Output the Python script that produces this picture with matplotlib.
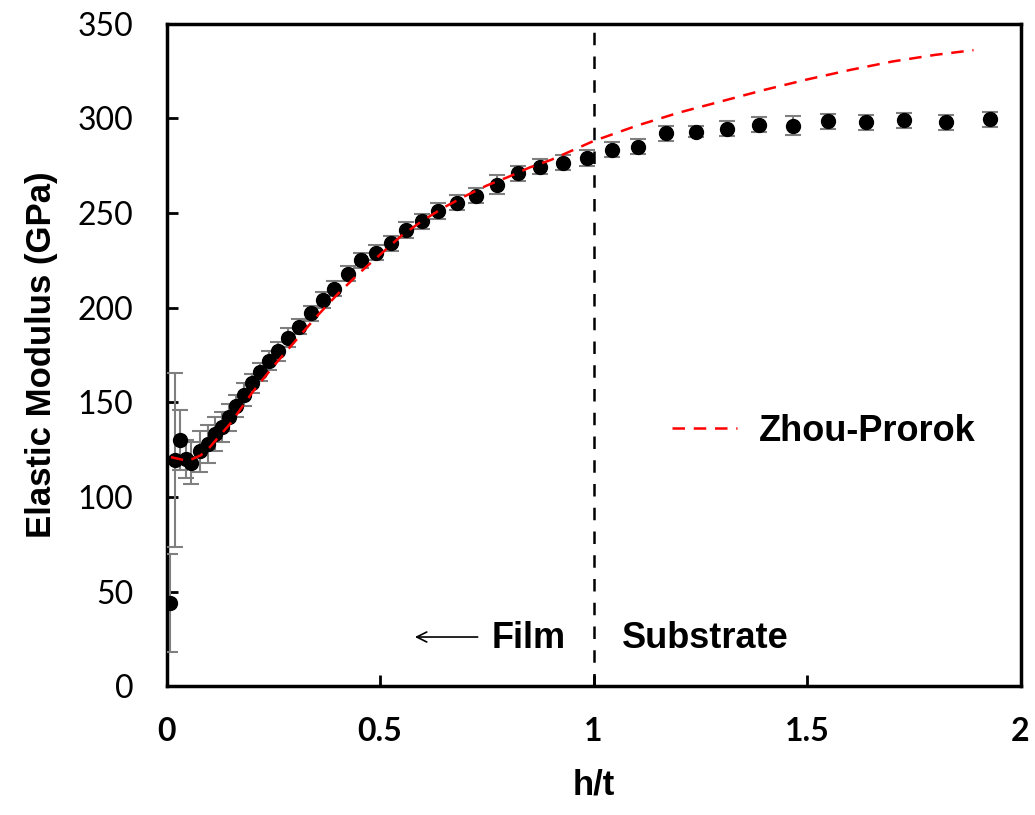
import numpy as np
import matplotlib as mpl
import matplotlib.pyplot as plt

mpl.rcParams['font.family'] = ['Liberation Sans', 'DejaVu Sans']

# Measured modulus vs normalised depth
h_t = [0.007, 0.020, 0.032, 0.045, 0.056, 0.077, 0.098, 0.113, 0.129, 0.146,
       0.162, 0.181, 0.200, 0.218, 0.239, 0.260, 0.284, 0.310, 0.338, 0.366,
       0.392, 0.425, 0.455, 0.490, 0.525, 0.560, 0.598, 0.635, 0.680, 0.724,
       0.773, 0.823, 0.875, 0.929, 0.985, 1.043, 1.104, 1.170, 1.240, 1.313,
       1.388, 1.468, 1.550, 1.637, 1.726, 1.826, 1.929]
modulus = [44, 119.5, 130, 120, 118, 124, 128, 133, 137, 142,
           148, 154, 160, 166, 172, 177, 184, 190, 197, 204,
           210, 218, 225, 229, 234, 241, 245.5, 251, 255.5, 259,
           265, 271, 274.5, 276.5, 279, 283.5, 285, 292, 293, 294.5,
           296.5, 296, 298.5, 298, 299, 298, 299.5]
err = [26, 46, 16, 10, 11, 11, 10, 9, 8, 7,
       6, 6, 5, 5, 5, 5, 5, 4, 4, 4,
       4, 4, 4, 4, 4, 4, 4, 4, 4, 4,
       5, 4, 4, 4, 4, 4, 4, 4, 3, 4,
       4, 5, 4, 4, 4, 4, 4]

# Zhou-Prorok model curve
zp_x = [0.01, 0.03, 0.05, 0.08, 0.10, 0.15, 0.20, 0.25, 0.30, 0.35, 0.40,
        0.45, 0.50, 0.55, 0.60, 0.65, 0.70, 0.75, 0.80, 0.85, 0.90, 0.95,
        1.00, 1.10, 1.20, 1.30, 1.40, 1.50, 1.60, 1.70, 1.80, 1.89]
zp_y = [121, 120, 119, 122, 126, 139, 155, 169, 182, 195, 207,
        218, 228, 238, 246, 253, 259, 264.5, 269, 274, 278, 283,
        288, 296, 303, 309, 315, 320.5, 325.5, 330, 333.5, 336]

fig = plt.figure(figsize=(10.35, 8.15), dpi=100)
ax = fig.add_axes([0.161, 0.158, 0.825, 0.813])

ax.errorbar(h_t, modulus, yerr=err, fmt='o', color='black', markersize=10,
            ecolor='#7f7f7f', elinewidth=1.5, capsize=6, capthick=1.5, zorder=3)
ax.plot(zp_x, zp_y, '--', color='red', lw=1.8, dashes=(5, 3.5), zorder=4,
        label='Zhou-Prorok')

ax.axvline(1.0, color='black', lw=1.8, ls='--', dashes=(5, 4.5), zorder=1)

ax.annotate('', xy=(0.575, 26), xytext=(0.735, 26),
            arrowprops=dict(arrowstyle='->', color='black', lw=1.2,
                            mutation_scale=18))
ax.text(0.762, 25, 'Film', fontsize=26, fontweight='bold', va='center')
ax.text(1.066, 25, 'Substrate', fontsize=26, fontweight='bold', va='center')

ax.set_xlim(0, 2)
ax.set_ylim(0, 350)
ax.set_xticks([0, 0.5, 1, 1.5, 2])
ax.set_xticklabels(['0', '0.5', '1', '1.5', '2'])
ax.set_yticks(np.arange(0, 351, 50))

ax.tick_params(direction='in', length=8, width=2, labelsize=23)
ax.tick_params(axis='x', pad=22)
ax.tick_params(axis='y', pad=24)
for lab in ax.get_xticklabels():
    lab.set_fontfamily('Lato')
    lab.set_fontweight('bold')
for lab in ax.get_yticklabels():
    lab.set_fontfamily('Lato')
for sp in ax.spines.values():
    sp.set_linewidth(2.5)

ax.set_xlabel('h/t', fontsize=25, fontweight='bold', labelpad=16)
ax.set_ylabel('Elastic Modulus (GPa)', fontsize=25, fontweight='bold', labelpad=14)

leg = ax.legend(loc='center', bbox_to_anchor=(0.77, 0.385), frameon=False,
                fontsize=26, handlelength=1.8, handletextpad=0.6)
for t in leg.get_texts():
    t.set_fontweight('bold')

fig.savefig('out.png', dpi=100)
